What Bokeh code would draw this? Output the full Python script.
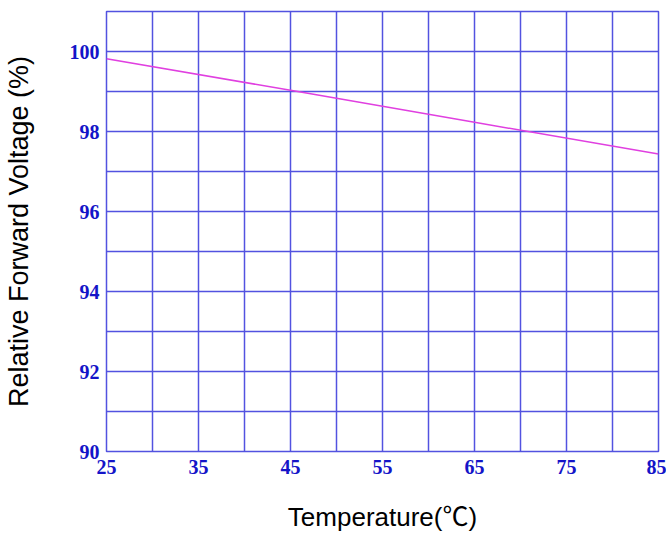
from bokeh.plotting import figure
from bokeh.models import Range1d, FixedTicker
from bokeh.embed import file_html
from bokeh.resources import INLINE

# Data
temperature = [25, 45, 65, 85]
relative_voltage = [99.82, 99.03, 98.23, 97.44]

x_ticks = [25, 35, 45, 55, 65, 75, 85]
y_ticks = [90, 92, 94, 96, 98, 100]
x_grid = list(range(25, 90, 5))
y_grid = list(range(90, 102))

GRID = "#5252e0"
TICK = "#1414c8"

p = figure(width=666, height=535, output_backend="svg", toolbar_location=None,
           x_range=Range1d(25, 85), y_range=Range1d(90, 101),
           min_border_left=104, min_border_right=8, min_border_top=11, min_border_bottom=84)

p.background_fill_color = "white"
p.border_fill_color = "white"
p.outline_line_color = GRID
p.outline_line_width = 1.5

p.xgrid.ticker = FixedTicker(ticks=x_grid)
p.ygrid.ticker = FixedTicker(ticks=y_grid)
for g in (p.xgrid, p.ygrid):
    g.grid_line_color = GRID
    g.grid_line_width = 1.5
    g.grid_line_alpha = 1.0

p.xaxis.ticker = FixedTicker(ticks=x_ticks)
p.yaxis.ticker = FixedTicker(ticks=y_ticks)

for ax in (p.xaxis, p.yaxis):
    ax.axis_line_color = None
    ax.major_tick_line_color = None
    ax.minor_tick_line_color = None
    ax.major_tick_out = 0
    ax.major_tick_in = 0
    ax.major_label_text_font = "Liberation Serif"
    ax.major_label_text_font_style = "bold"
    ax.major_label_text_font_size = "20px"
    ax.major_label_text_color = TICK
    ax.axis_label_text_font = "Liberation Sans, Noto Sans CJK SC"
    ax.axis_label_text_font_style = "normal"
    ax.axis_label_text_color = "black"

p.xaxis.axis_label = "Temperature(℃)"
p.yaxis.axis_label = "Relative Forward Voltage (%)"
p.xaxis.axis_label_text_font_size = "26px"
p.yaxis.axis_label_text_font_size = "27px"
p.xaxis.major_label_standoff = 8
p.yaxis.major_label_standoff = 7
p.xaxis.axis_label_standoff = 25
p.yaxis.axis_label_standoff = 33

p.line(temperature, relative_voltage, line_color="#e040e0", line_width=1.5)

open("out.html", "w").write(file_html(p, INLINE))
